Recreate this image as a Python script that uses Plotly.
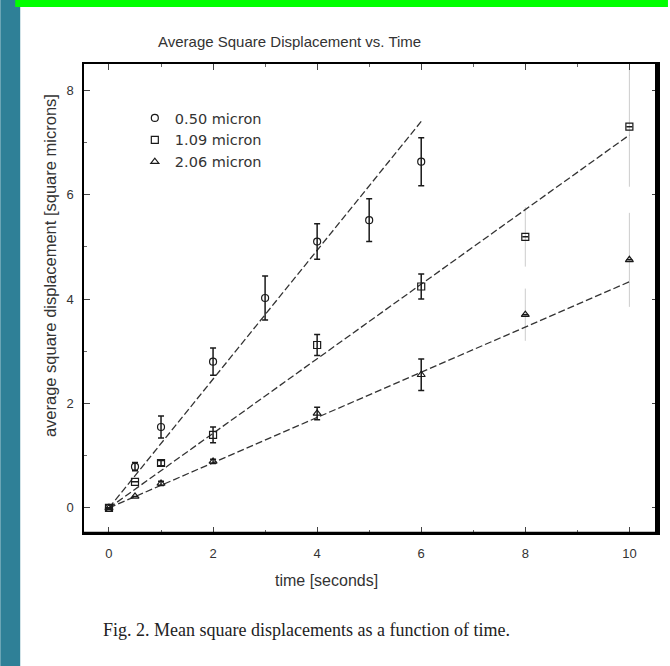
import plotly.graph_objects as go

# ---------------- data ----------------
series_names = ["0.50 micron", "1.09 micron", "2.06 micron"]
series_symbols = ["circle-open", "square-open", "triangle-up-open"]

t1 = [0, 0.5, 1, 2, 3, 4, 5, 6]
msd1 = [0, 0.79, 1.55, 2.8, 4.02, 5.1, 5.51, 6.63]
err1 = [0, 0.08, 0.21, 0.26, 0.42, 0.34, 0.41, 0.46]
faint1 = [False] * 8

t2 = [0, 0.5, 1, 2, 4, 6, 8, 10]
msd2 = [0, 0.5, 0.86, 1.4, 3.12, 4.24, 5.19, 7.3]
err2 = [0, 0, 0.05, 0.15, 0.2, 0.24, 0.57, 1.15]
faint2 = [False, False, False, False, False, False, True, True]

t3 = [0, 0.5, 1, 2, 4, 6, 8, 10]
msd3 = [0, 0.22, 0.47, 0.89, 1.81, 2.55, 3.7, 4.75]
err3 = [0, 0, 0.04, 0.04, 0.12, 0.3, 0.5, 0.9]
faint3 = [False, False, False, False, False, False, True, True]

fit_end_t = [6, 10, 10]
fit_end_msd = [7.4, 7.14, 4.33]

x_ticks = [0, 2, 4, 6, 8, 10]
y_ticks = [0, 2, 4, 6, 8]

title_text = "Average Square Displacement vs. Time"
x_title = "time [seconds]"
y_title = "average square displacement [square microns]"
caption = "Fig. 2. Mean square displacements as a function of time."

# ---------------- layout geometry ----------------
W, H = 670, 666
L, R, T, B = 84, 660, 64, 533
pw, ph = R - L, B - T


def px(xp):
    return (xp - L) / pw


def py(yp):
    return (B - yp) / ph


SANS = "Liberation Sans, Arial, sans-serif"
WIDE = "DejaVu Sans, Verdana, sans-serif"
SERIF = "Liberation Serif, Times New Roman, serif"
INK = "#1a1a1a"

fig = go.Figure()

all_series = [(t1, msd1, err1, faint1), (t2, msd2, err2, faint2), (t3, msd3, err3, faint3)]

# faint error bars (partly lost in the scan)
for (t, m, e, f) in all_series:
    ft = [a for a, k in zip(t, f) if k]
    if not ft:
        continue
    fm = [a for a, k in zip(m, f) if k]
    fe = [a for a, k in zip(e, f) if k]
    fig.add_trace(go.Scatter(
        x=ft, y=fm, mode="markers",
        marker=dict(size=1, color="rgba(0,0,0,0)"),
        error_y=dict(type="data", array=fe, visible=True, color="#cccccc",
                     thickness=1, width=0),
        showlegend=False, hoverinfo="skip"))

# fitted lines
for i in range(3):
    fig.add_trace(go.Scatter(
        x=[0, fit_end_t[i]], y=[0, fit_end_msd[i]], mode="lines",
        line=dict(color="#333333", width=1.3, dash="7px,3px"),
        showlegend=False, hoverinfo="skip"))

# data points with error bars
for i, (t, m, e, f) in enumerate(all_series):
    ee = [0 if k else a for a, k in zip(e, f)]
    fig.add_trace(go.Scatter(
        x=t, y=m, mode="markers", name=series_names[i],
        marker=dict(symbol=series_symbols[i], size=7, color=INK,
                    line=dict(width=1.2, color=INK)),
        error_y=dict(type="data", array=ee, visible=True, color=INK,
                     thickness=1.5, width=3)))

axis_common = dict(
    showline=True, linecolor="black", linewidth=1.5, mirror="allticks",
    ticks="inside", ticklen=6, tickwidth=1, tickcolor="#444",
    showgrid=False, zeroline=False,
    tickfont=dict(family=SANS, size=13, color="#333"),
)

fig.update_layout(
    width=W, height=H,
    margin=dict(l=L, r=W - R, t=T, b=H - B),
    paper_bgcolor="white", plot_bgcolor="white",
    xaxis=dict(range=[-0.48, 10.55], tickvals=x_ticks, ticklabelstandoff=8,
               minor=dict(dtick=1, ticks="inside", ticklen=3, tickcolor="#666"),
               **axis_common),
    yaxis=dict(range=[-0.48, 8.5], tickvals=y_ticks, ticklabelstandoff=6,
               minor=dict(dtick=1, ticks="inside", ticklen=3, tickcolor="#666"),
               **axis_common),
    legend=dict(x=px(135), y=py(102), xanchor="left", yanchor="top",
                bgcolor="rgba(0,0,0,0)", borderwidth=0,
                font=dict(family=WIDE, size=14.5, color="#333"),
                tracegroupgap=0),
    showlegend=True,
)

shapes = [
    # teal side band
    dict(type="rect", xref="paper", yref="paper", x0=px(0), x1=px(20),
         y0=py(H), y1=py(0), fillcolor="#2f8097", line=dict(width=0), layer="below"),
    # green top bar
    dict(type="rect", xref="paper", yref="paper", x0=px(15), x1=px(W),
         y0=py(7), y1=py(0), fillcolor="#00ff00", line=dict(width=0), layer="below"),
    # thick right frame edge
    dict(type="line", xref="paper", yref="paper", x0=px(659), x1=px(659),
         y0=py(B + 1), y1=py(T - 1), line=dict(color="black", width=4)),
    # heavier bottom edge
    dict(type="line", xref="paper", yref="paper", x0=px(L), x1=px(R),
         y0=py(B), y1=py(B), line=dict(color="black", width=2.5)),
]
fig.update_layout(shapes=shapes)

annotations = [
    dict(text=title_text, x=px(290), y=py(42), xref="paper", yref="paper",
         showarrow=False, font=dict(family=SANS, size=15, color="#333"),
         xanchor="center", yanchor="middle"),
    dict(text=x_title, x=px(327), y=py(580), xref="paper", yref="paper",
         showarrow=False, font=dict(family=SANS, size=16, color="#333"),
         xanchor="center", yanchor="middle"),
    dict(text=y_title, x=px(50), y=py(266), xref="paper", yref="paper",
         showarrow=False, textangle=-90,
         font=dict(family=SANS, size=16.5, color="#333"),
         xanchor="center", yanchor="middle"),
    dict(text=caption, x=px(307), y=py(630), xref="paper", yref="paper",
         showarrow=False, font=dict(family=SERIF, size=18, color="#222"),
         xanchor="center", yanchor="middle"),
]
fig.update_layout(annotations=annotations)

fig.write_html(
    "out.html",
    config={"displayModeBar": False},
    post_script="document.body.style.margin='0';document.body.style.padding='0';",
)
